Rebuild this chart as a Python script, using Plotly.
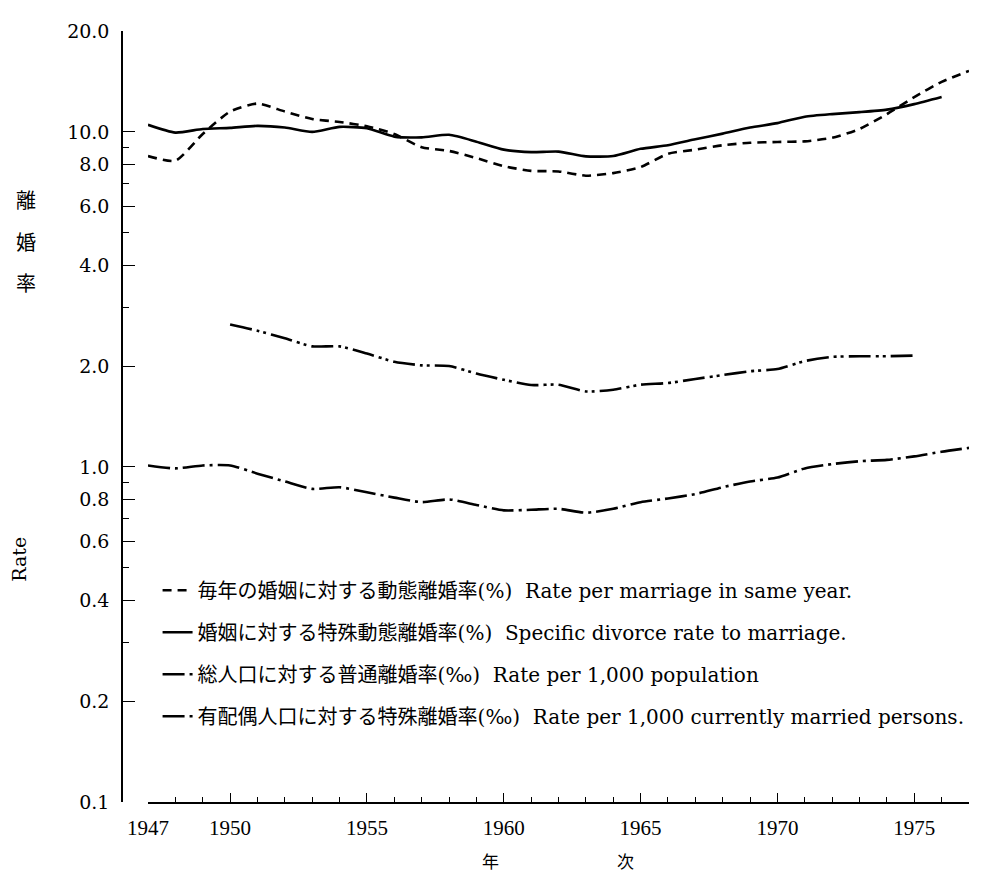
import plotly.graph_objects as go

# ---- data ----
years_same = list(range(1947, 1978))
rate_same_year = [8.47, 8.2, 9.85, 11.5, 12.15, 11.5, 10.93, 10.7, 10.4, 9.85, 9.0, 8.77, 8.35,
                  7.9, 7.65, 7.62, 7.4, 7.53, 7.85, 8.6, 8.85, 9.12, 9.28, 9.33, 9.37, 9.6,
                  10.2, 11.3, 12.7, 14.1, 15.2]

years_spec = list(range(1947, 1977))
rate_specific = [10.5, 9.95, 10.2, 10.28, 10.42, 10.3, 10.0, 10.35, 10.25, 9.68, 9.63, 9.8, 9.35,
                 8.85, 8.7, 8.73, 8.45, 8.47, 8.9, 9.12, 9.5, 9.88, 10.3, 10.62, 11.1, 11.3,
                 11.45, 11.65, 12.1, 12.7]

years_crude = list(range(1947, 1978))
rate_crude = [1.01, 0.99, 1.01, 1.01, 0.955, 0.905, 0.86, 0.87, 0.84, 0.81, 0.785, 0.80, 0.77,
              0.742, 0.745, 0.75, 0.73, 0.75, 0.785, 0.805, 0.83, 0.87, 0.905, 0.93, 0.99, 1.02,
              1.04, 1.05, 1.075, 1.11, 1.14]

years_married = list(range(1950, 1976))
rate_married = [2.66, 2.55, 2.42, 2.29, 2.29, 2.18, 2.06, 2.01, 2.0, 1.9, 1.82, 1.755, 1.76,
                1.68, 1.70, 1.76, 1.78, 1.83, 1.88, 1.93, 1.96, 2.07, 2.13, 2.14, 2.14, 2.15]

names = [
    "毎年の婚姻に対する動態離婚率(%)  Rate per marriage in same year.",
    "婚姻に対する特殊動態離婚率(%)  Specific divorce rate to marriage.",
    "総人口に対する普通離婚率(‰)  Rate per 1,000 population",
    "有配偶人口に対する特殊離婚率(‰)  Rate per 1,000 currently married persons.",
]

y_tickvals = [0.1, 0.2, 0.4, 0.6, 0.8, 1, 2, 4, 6, 8, 10, 20]
y_ticktext = ["0.1", "0.2", "0.4", "0.6", "0.8", "1.0", "2.0", "4.0", "6.0", "8.0", "10.0", "20.0"]
y_minor = [0.3, 0.5, 0.7, 0.9, 3, 5, 7, 9]
x_tickvals = [1947, 1950, 1955, 1960, 1965, 1970, 1975]
x_minor = [y for y in range(1948, 1978) if y not in x_tickvals]

serif = "DejaVu Serif, Noto Sans CJK JP"
cjk = "Noto Sans CJK JP"

fig = go.Figure()
series = [
    (years_same, rate_same_year, "9px,6px", names[0]),
    (years_spec, rate_specific, "solid", names[1]),
    (years_crude, rate_crude, "22px,5px,3px,5px", names[2]),
    (years_married, rate_married, "22px,5px,3px,4px,3px,5px", names[3]),
]
for i, (xs, ys, dash, nm) in enumerate(series):
    fig.add_trace(go.Scatter(
        x=xs, y=ys, mode="lines", name=nm, legendgroup=f"g{i}",
        line=dict(color="black", width=2.6, dash=dash, shape="spline", smoothing=0.6),
    ))

# the page body adds an 8px offset, so the figure is 8px smaller on each axis
fig.update_layout(
    width=978, height=870,
    margin=dict(l=114, r=17, t=17, b=76),
    paper_bgcolor="white", plot_bgcolor="white",
    font=dict(family=serif, color="black"),
    showlegend=True,
    legend=dict(
        x=0.042, y=0.3, xanchor="left", yanchor="top",
        font=dict(family=serif, size=20, color="black"),
        tracegroupgap=13, bgcolor="rgba(0,0,0,0)", itemwidth=30,
    ),
    xaxis=dict(
        domain=[0.0307, 1], range=[1947, 1977], showgrid=False, zeroline=False,
        showline=True, linecolor="black", linewidth=1.5,
        tickmode="array", tickvals=x_tickvals, ticktext=[str(v) for v in x_tickvals],
        ticks="inside", ticklen=9, tickwidth=1.3, tickcolor="black",
        tickfont=dict(family="Liberation Serif", size=21, color="black"),
        ticklabelstandoff=6,
        minor=dict(tickmode="array", tickvals=x_minor, ticks="inside", ticklen=5,
                   tickwidth=1, tickcolor="black", showgrid=False),
    ),
    yaxis=dict(
        type="log", range=[-1, 1.30103], anchor="free", position=0,
        showgrid=False, zeroline=False, showline=True, linecolor="black", linewidth=1.5,
        tickmode="array", tickvals=y_tickvals, ticktext=y_ticktext,
        ticks="inside", ticklen=12, tickwidth=1.3, tickcolor="black",
        tickfont=dict(family="DejaVu Serif", size=19, color="black"),
        ticklabelstandoff=8,
        minor=dict(tickmode="array", tickvals=y_minor, ticks="inside", ticklen=6,
                   tickwidth=1, tickcolor="black", showgrid=False),
    ),
)

annots = [
    dict(text="離", x=-0.113, y=0.781, font=dict(family=cjk, size=20)),
    dict(text="婚", x=-0.113, y=0.727, font=dict(family=cjk, size=20)),
    dict(text="率", x=-0.113, y=0.674, font=dict(family=cjk, size=20)),
    dict(text="Rate", x=-0.122, y=0.315, textangle=-90, font=dict(family="DejaVu Serif", size=19)),
    dict(text="年", x=0.435, y=-0.076, font=dict(family=cjk, size=17)),
    dict(text="次", x=0.595, y=-0.076, font=dict(family=cjk, size=17)),
]
for a in annots:
    a.update(xref="paper", yref="paper", showarrow=False, xanchor="center", yanchor="middle")
    a["font"]["color"] = "black"
    fig.add_annotation(**a)

fig.write_html("out.html")
